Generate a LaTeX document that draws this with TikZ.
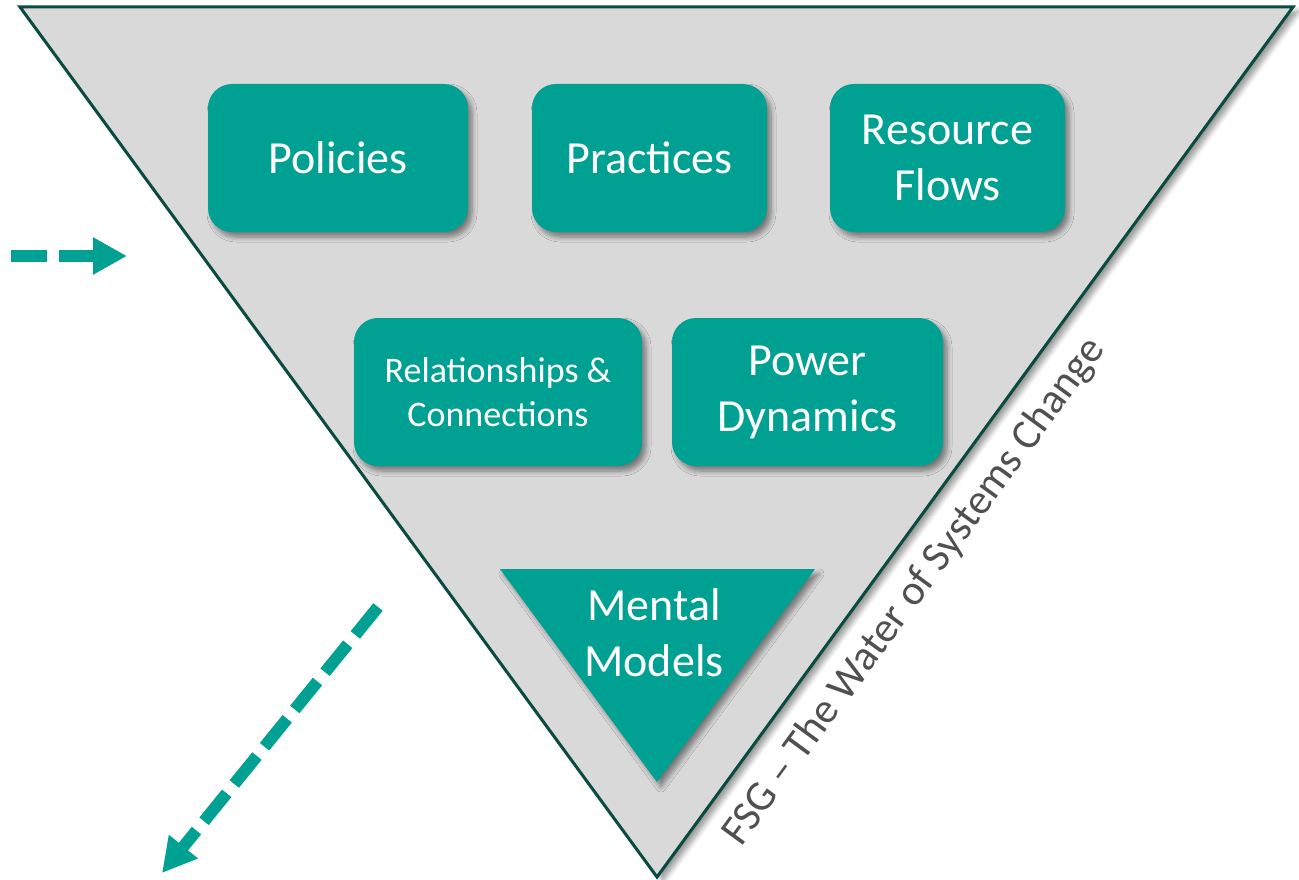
\documentclass[tikz,border=0pt]{standalone}
\usepackage{fontspec}
\setmainfont{Carlito}
\usetikzlibrary{shadows.blur, arrows.meta}
\definecolor{tealbox}{RGB}{0,160,146}
\definecolor{edgecol}{RGB}{10,75,65}
\definecolor{bgcol}{RGB}{217,217,217}
\definecolor{creditcol}{RGB}{80,80,80}
\begin{document}
\begin{tikzpicture}[x=1pt,y=-1pt,
  softshadow/.style={blur shadow={shadow xshift=4pt, shadow yshift=-5pt, shadow blur steps=6, shadow blur radius=5pt, shadow opacity=45}},
  box/.style={fill=tealbox, rounded corners=24pt, text=white, align=center, inner sep=0pt, minimum height=148pt, softshadow},
  bigtext/.style={font=\fontsize{46}{56}\selectfont},
  smalltext/.style={font=\fontsize{36}{44}\selectfont},
  dasharrow/.style={draw=tealbox, line width=12pt, dash pattern=on 36pt off 12pt, -{Triangle[length=34pt,width=35pt]}},
]
\useasboundingbox (0,0) rectangle (1299,880);
% big triangle
\coordinate (tl) at (20,7);
\coordinate (tr) at (1293,7);
\coordinate (bot) at (657,877);
\draw[fill=bgcol, draw=edgecol, line width=3pt, line join=miter, blur shadow={shadow xshift=6pt, shadow yshift=-4pt, shadow blur steps=6, shadow blur radius=5pt, shadow opacity=40}] (tl) -- (tr) -- (bot) -- cycle;
% boxes
\node[box, bigtext, minimum width=260pt] (policies) at (338,158) {Policies};
\node[box, bigtext, minimum width=235pt] (practices) at (649.5,158) {Practices};
\node[box, bigtext, minimum width=235pt] (resource) at (947.5,158) {Resource\\Flows};
\node[box, smalltext, minimum width=288pt] (relations) at (498,392) {Relationships \&\\Connections};
\node[box, bigtext, minimum width=271pt] (power) at (807.5,392) {Power\\Dynamics};
% mental models triangle
\coordinate (mtl) at (500,569);
\coordinate (mtr) at (815,569);
\coordinate (mbot) at (657,782);
\fill[tealbox, softshadow] (mtl) -- (mtr) -- (mbot) -- cycle;
\node[bigtext, text=white, align=center, inner sep=0pt] (mental) at (654,633) {Mental\\Models};
% credit
\node[rotate=53.8, anchor=base west, text=creditcol, inner sep=0pt, font=\fontsize{42.5}{50}\selectfont] (credit) at (741,848) {FSG – The Water of Systems Change};
% arrows
\coordinate (a1s) at (11,256);
\coordinate (a1e) at (127,256);
\draw[dasharrow] (a1s) -- (a1e);
\coordinate (a2s) at (378,607);
\coordinate (a2e) at (162,873);
\draw[dasharrow] (a2s) -- (a2e);
\end{tikzpicture}
\end{document}
